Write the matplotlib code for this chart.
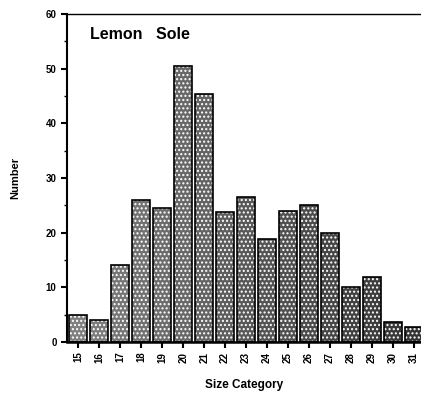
import numpy as np
import matplotlib
matplotlib.use("Agg")
from matplotlib import pyplot as plt

# size categories and counts
sizes = [15, 16, 17, 18, 19, 20, 21, 22, 23, 24, 25, 26, 27, 28, 29, 30, 31]
counts = [5, 4, 14, 26, 24.5, 50.4, 45.3, 23.8, 26.6, 18.9, 24, 25, 20, 10, 11.9, 3.7, 2.8]

plt.rcParams['font.family'] = ['Liberation Sans', 'DejaVu Sans']
plt.rcParams['font.weight'] = 'bold'

fig = plt.figure(figsize=(4.21, 3.99), dpi=100)
ax = fig.add_axes([0.159, 0.143, 0.841, 0.822])

# stippled look: grey fill getting darker to the right, white dot hatch, black edge
greys = np.linspace(0.5, 0.2, len(sizes))
cols = [(g, g, g) for g in greys]
ax.bar(sizes, counts, width=0.86, color=cols, edgecolor='white', hatch='....', linewidth=0)
ax.bar(sizes, counts, width=0.86, fill=False, edgecolor='black', linewidth=1.2)

ax.set_xlim(14.45, 31.35)
ax.set_ylim(0, 60)
ax.set_yticks(range(0, 61, 10))
ax.set_yticks(range(5, 60, 10), minor=True)
ax.set_xticks(sizes)
ax.set_xticklabels([str(s) for s in sizes], rotation=90, fontsize=7)
ax.tick_params(axis='y', labelsize=7, length=4, width=1.5)
ax.tick_params(axis='y', which='minor', length=2, width=1)
ax.tick_params(axis='x', length=4, width=1.5, pad=3)

ax.spines['right'].set_visible(False)
ax.spines['left'].set_linewidth(1.5)
ax.spines['bottom'].set_linewidth(1.8)
ax.spines['top'].set_linewidth(1.0)
ax.spines['top'].set_linestyle((0, (6, 1)))

ax.text(0.065, 0.96, "Lemon   Sole", transform=ax.transAxes, fontsize=11.5,
        fontweight='bold', va='top', ha='left')
ax.set_ylabel("Number", fontsize=8, fontweight='bold', labelpad=18)
ax.set_xlabel("Size Category", fontsize=8.5, fontweight='bold', labelpad=12)

fig.savefig("out.png", dpi=100)
